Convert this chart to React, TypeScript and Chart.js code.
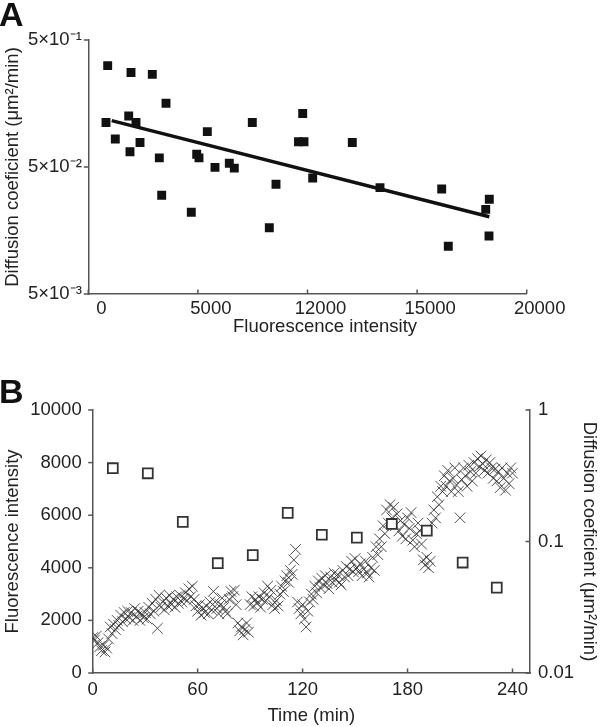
import React, { useEffect, useRef } from "react";
import { Chart, registerables } from "chart.js";
Chart.register(...registerables);

const FONT = '"Liberation Sans", Arial, Helvetica, sans-serif';
const TEXT = "#222";
const AXIS = "#555";
const FS = 18.5;

// ---------- Panel A ----------
const fluorA = [885, 1948, 2920, 3545, 807, 1843, 2176, 1232, 2359, 1902, 3240, 3348, 4945, 5050, 4699, 5430, 5780, 6433, 6661, 7482, 8258, 8563, 9589, 9840, 9781, 10237, 12044, 13307, 16122, 16423, 18294, 18130, 18280];
const diffA = [0.314, 0.277, 0.268, 0.159, 0.112, 0.126, 0.112, 0.083, 0.078, 0.066, 0.059, 0.03, 0.063, 0.059, 0.022, 0.095, 0.0497, 0.0535, 0.049, 0.112, 0.0166, 0.0366, 0.079, 0.079, 0.132, 0.041, 0.078, 0.0344, 0.0336, 0.0119, 0.0279, 0.0232, 0.0143];
const trendX = [1068, 18294];
const trendY = [0.116, 0.0203];
const xTicksA = [0, 5000, 10000, 15000, 20000];
const xTickLabelsA = ["0", "5000", "12000", "15000", "20000"];
const yTicksA = [0.005, 0.05, 0.5];
const yTickLabelsA = ["5×10⁻³", "5×10⁻²", "5×10⁻¹"];

// ---------- Panel B ----------
const timeB = [
  0, 1, 2, 3, 4, 5, 6, 7, 8, 9, 10, 11, 12, 13, 14, 15, 16, 17, 18, 19,
  20, 21, 22, 23, 24, 25, 26, 27, 28, 29, 30, 31, 32, 33, 34, 35, 36, 37, 38, 39,
  40, 41, 42, 43, 44, 45, 46, 47, 48, 49, 50, 51, 52, 53, 54, 55, 56, 57, 58, 59,
  60, 61, 62, 63, 64, 65, 66, 67, 68, 69, 70, 71, 72, 73, 74, 75, 76, 77, 78, 79,
  80, 81, 82, 83, 84, 85, 86, 87, 88, 89, 90, 91, 92, 93, 94, 95, 96, 97, 98, 99,
  100, 101, 102, 103, 104, 105, 106, 107, 108, 109, 110, 111, 112, 113, 114, 115, 116, 117, 118, 119,
  120, 121, 122, 123, 124, 125, 126, 127, 128, 129, 130, 131, 132, 133, 134, 135, 136, 137, 138, 139,
  140, 141, 142, 143, 144, 145, 146, 147, 148, 149, 150, 151, 152, 153, 154, 155, 156, 157, 158, 159,
  160, 161, 162, 163, 164, 165, 166, 167, 168, 169, 170, 171, 172, 173, 174, 175, 176, 177, 178, 179,
  180, 181, 182, 183, 184, 185, 186, 187, 188, 189, 190, 191, 192, 193, 194, 195, 196, 197, 198, 199,
  200, 201, 202, 203, 204, 205, 206, 207, 208, 209, 210, 211, 212, 213, 214, 215, 216, 217, 218, 219,
  220, 221, 222, 223, 224, 225, 226, 227, 228, 229, 230, 231, 232, 233, 234, 235, 236, 237, 238, 239, 240,
];
const fluorB = [
  1350, 1250, 1400, 1150, 1000, 850, 1050, 800, 950, 1300,
  1750, 1500, 1850, 1650, 2000, 1800, 2200, 1950, 2300, 2050,
  2350, 2100, 2300, 2000, 2450, 2150, 2350, 2000, 2250, 2100,
  2300, 2050, 2500, 2250, 2650, 2350, 2800, 1700, 2950, 2500,
  2700, 2400, 2850, 2550, 2950, 2600, 2800, 2500, 2900, 2650,
  2950, 2700, 2850, 3050, 2750, 3200, 2900, 3300, 2800, 2550,
  2350, 2600, 2200, 2450, 2300, 2550, 2250, 2700, 2400, 3100,
  2700, 2450, 2250, 2600, 2850, 2500, 2350, 2250, 2800, 3100,
  2900, 3150, 2600, 1900, 1600, 1750, 1450, 1650, 1900, 1550,
  2600, 2900, 2550, 2800, 2650, 2900, 2500, 2800, 3050, 2750,
  3300, 2900, 3150, 2600, 2450, 2750, 2550, 3000, 3300, 3100,
  3500, 3700, 3450, 3900, 3750, 4300, 4700, 2700, 2450, 2250,
  2600, 2050, 1750, 2350, 2700, 3000, 2800, 3300, 3050, 3500,
  3250, 3600, 3350, 3700, 3400, 3200, 3650, 3450, 3800, 3550,
  3750, 3450, 3350, 3900, 3650, 4050, 3700, 3950, 4250, 3850,
  4350, 4000, 3850, 4150, 3700, 3950, 4250, 3800, 3650, 4000,
  4400, 3900, 4800, 4500, 5100, 4800, 5600, 5300, 6200, 5700,
  6400, 5900, 6300, 5600, 6050, 5400, 5800, 5200, 5650, 5100,
  5900, 5500, 6100, 5050, 4800, 5300, 5700, 5400, 4900, 4300,
  4100, 4400, 4000, 4250, 5700, 6200, 5900, 6700, 6400, 7100,
  6900, 7500, 7100, 7700, 7300, 6900, 7400, 7800, 7150, 6900,
  5900, 7350, 7800, 7500, 7100, 7900, 7650, 7300, 8000, 7600,
  8150, 7850, 8250, 7950, 7700, 8100, 7600, 8000, 7800, 7400,
  7750, 7300, 7650, 7050, 7800, 7400, 6950, 7600, 7200, 7800, 7600,
];
const timeSq = [11.5, 31.5, 51.5, 71.5, 91.5, 111.5, 131, 151, 171, 191, 211.5, 231];
const diffSq = [0.361, 0.33, 0.141, 0.0684, 0.0788, 0.165, 0.1125, 0.107, 0.136, 0.121, 0.0692, 0.0446];
const xTicksB = [0, 60, 120, 180, 240];
const yTicksB = [0, 2000, 4000, 6000, 8000, 10000];
const y2TicksB = [0.01, 0.1, 1];
const y2TickLabelsB = ["0.01", "0.1", "1"];

type TickSpec = Record<string, "in" | "out">;
type ExtraText = { text: string; x: number; y: number };

function makeDecor(letter: string, baseline: number, spec: TickSpec, extra: ExtraText[]) {
  return {
    id: "decor" + letter,
    afterDraw(chart: any) {
      const ctx = chart.ctx;
      ctx.save();
      ctx.strokeStyle = AXIS;
      ctx.lineWidth = 1.5;
      const len = 4.5;
      Object.keys(spec).forEach((id) => {
        const s = chart.scales[id];
        const dir = spec[id];
        s.ticks.forEach((t: any) => {
          const p = s.getPixelForValue(t.value);
          ctx.beginPath();
          if (s.isHorizontal()) {
            const y0 = s.top;
            ctx.moveTo(p, y0);
            ctx.lineTo(p, dir === "in" ? y0 - len : y0 + len);
          } else if (s.position === "left") {
            const x0 = s.right;
            ctx.moveTo(x0, p);
            ctx.lineTo(dir === "in" ? x0 + len : x0 - len, p);
          } else {
            const x0 = s.left;
            ctx.moveTo(x0, p);
            ctx.lineTo(dir === "in" ? x0 - len : x0 + len, p);
          }
          ctx.stroke();
        });
      });
      ctx.fillStyle = TEXT;
      ctx.font = `${FS}px ${FONT}`;
      ctx.textAlign = "center";
      ctx.textBaseline = "middle";
      extra.forEach((e) => ctx.fillText(e.text, e.x, e.y));
      ctx.fillStyle = "#111";
      ctx.font = `bold 34px ${FONT}`;
      ctx.textAlign = "left";
      ctx.textBaseline = "alphabetic";
      ctx.fillText(letter, -1, baseline);
      ctx.restore();
    },
  };
}

const tickFont = { family: FONT, size: FS };
const titleFont = { family: FONT, size: FS };

function pick(ticks: number[], labels: string[]) {
  return (v: any) => {
    const i = ticks.findIndex((t) => Math.abs(t - Number(v)) < 1e-9 * Math.max(1, Math.abs(t)));
    return i >= 0 ? labels[i] : "";
  };
}

export default function App() {
  const refA = useRef<HTMLCanvasElement>(null);
  const refB = useRef<HTMLCanvasElement>(null);

  useEffect(() => {
    const chartA = new Chart(refA.current!, {
      type: "scatter",
      data: {
        datasets: [
          {
            data: fluorA.map((x, i) => ({ x, y: diffA[i] })),
            pointStyle: "rect",
            pointRadius: 6.3,
            backgroundColor: "#111",
            borderColor: "#111",
            borderWidth: 0,
          },
          {
            data: trendX.map((x, i) => ({ x, y: trendY[i] })),
            showLine: true,
            pointRadius: 0,
            borderColor: "#111",
            borderWidth: 3.5,
          },
        ],
      } as any,
      options: {
        animation: false,
        responsive: false,
        layout: { padding: { left: 0, right: 73.3, top: 40, bottom: 0 } },
        plugins: { legend: { display: false }, tooltip: { enabled: false } },
        scales: {
          x: {
            type: "linear",
            min: 0,
            max: 20000,
            afterBuildTicks: (s: any) => {
              s.ticks = xTicksA.map((v) => ({ value: v }));
            },
            afterFit: (s: any) => {
              s.height = 46;
            },
            ticks: { callback: pick(xTicksA, xTickLabelsA), font: tickFont, color: TEXT, padding: 3.4, labelOffset: 13, maxRotation: 0, autoSkip: false },
            grid: { display: false, drawTicks: false },
            border: { display: true, color: AXIS, width: 1.5 },
            title: { display: false },
          },
          y: {
            type: "logarithmic",
            min: 0.005,
            max: 0.5,
            afterBuildTicks: (s: any) => {
              s.ticks = yTicksA.map((v) => ({ value: v }));
            },
            afterFit: (s: any) => {
              s.width = 88.3;
            },
            ticks: { callback: pick(yTicksA, yTickLabelsA), font: tickFont, color: TEXT, padding: 6.5, autoSkip: false },
            grid: { display: false, drawTicks: false },
            border: { display: true, color: AXIS, width: 1.5 },
            title: { display: true, text: "Diffusion coeficient (μm²/min)", font: titleFont, color: TEXT, padding: { top: 1.4, bottom: 0 } },
          },
        },
      } as any,
      plugins: [makeDecor("A", 26, { x: "in", y: "out" }, [{ text: "Fluorescence intensity", x: 325, y: 327 }])],
    });

    const chartB = new Chart(refB.current!, {
      type: "scatter",
      data: {
        datasets: [
          {
            data: timeSq.map((x, i) => ({ x, y: diffSq[i] })),
            yAxisID: "y2",
            pointStyle: "rect",
            pointRadius: 7,
            backgroundColor: "#fff",
            borderColor: "#333",
            borderWidth: 1.8,
          },
          {
            data: timeB.map((x, i) => ({ x, y: fluorB[i] })),
            yAxisID: "y",
            pointStyle: "crossRot",
            pointRadius: 7.5,
            backgroundColor: "rgba(0,0,0,0)",
            borderColor: "rgba(50,50,50,0.85)",
            borderWidth: 1,
          },
        ],
      } as any,
      options: {
        animation: false,
        responsive: false,
        layout: { padding: { left: 0, right: 0, top: 70, bottom: 0 } },
        plugins: { legend: { display: false }, tooltip: { enabled: false } },
        scales: {
          x: {
            type: "linear",
            min: 0,
            max: 250,
            afterBuildTicks: (s: any) => {
              s.ticks = xTicksB.map((v) => ({ value: v }));
            },
            afterFit: (s: any) => {
              s.height = 54;
            },
            ticks: { font: tickFont, color: TEXT, padding: 6, maxRotation: 0, autoSkip: false },
            grid: { display: false, drawTicks: false },
            border: { display: true, color: AXIS, width: 1.5 },
            title: { display: true, text: "Time (min)", font: titleFont, color: TEXT, padding: { top: 0, bottom: 0 } },
          },
          y: {
            type: "linear",
            position: "left",
            min: 0,
            max: 10000,
            afterBuildTicks: (s: any) => {
              s.ticks = yTicksB.map((v) => ({ value: v }));
            },
            afterFit: (s: any) => {
              s.width = 92.7;
            },
            ticks: { font: tickFont, color: TEXT, padding: 11, autoSkip: false, callback: (v: any) => String(v) },
            grid: { display: false, drawTicks: false },
            border: { display: true, color: AXIS, width: 1.5 },
            title: { display: true, text: "Fluorescence intensity", font: titleFont, color: TEXT, padding: { top: 1.4, bottom: 0 } },
          },
          y2: {
            type: "logarithmic",
            position: "right",
            min: 0.01,
            max: 1,
            afterBuildTicks: (s: any) => {
              s.ticks = y2TicksB.map((v) => ({ value: v }));
            },
            afterFit: (s: any) => {
              s.width = 70;
            },
            ticks: { callback: pick(y2TicksB, y2TickLabelsB), font: tickFont, color: TEXT, padding: 8, autoSkip: false },
            grid: { display: false, drawTicks: false },
            border: { display: true, color: AXIS, width: 1.5 },
            title: { display: true, text: "Diffusion coeficient (μm²/min)", font: titleFont, color: TEXT, padding: { top: 0, bottom: 0 } },
          },
        },
      } as any,
      plugins: [makeDecor("B", 63, { x: "in", y: "out", y2: "in" }, [])],
    });

    return () => {
      chartA.destroy();
      chartB.destroy();
    };
  }, []);

  return (
    <div style={{ position: "absolute", left: 0, top: 0, width: 600, height: 727, background: "#fff" }}>
      <canvas ref={refA} width={600} height={340} style={{ position: "absolute", left: 0, top: 0, width: 600, height: 340 }} />
      <canvas ref={refB} width={600} height={387} style={{ position: "absolute", left: 0, top: 340, width: 600, height: 387 }} />
    </div>
  );
}
